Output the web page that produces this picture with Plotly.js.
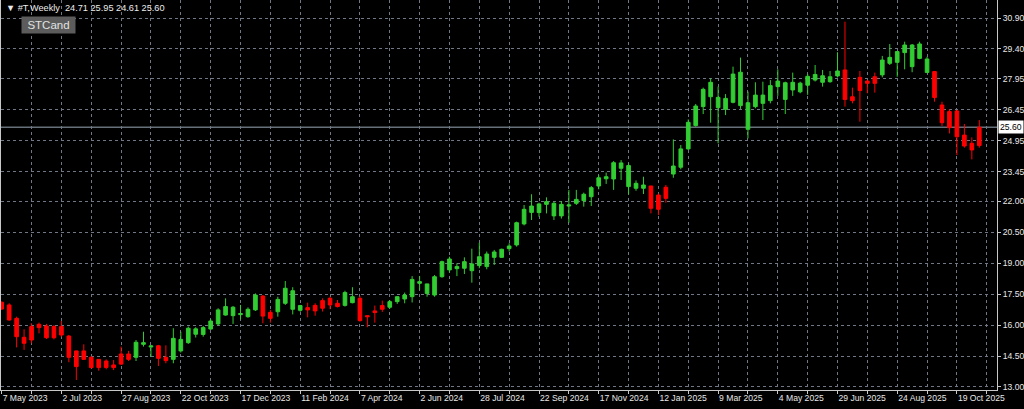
<!DOCTYPE html>
<html><head><meta charset="utf-8">
<script src="https://cdn.plot.ly/plotly-3.0.1.min.js"></script>
<style>html,body{margin:0;padding:0;background:#000;}#chart{width:1024px;height:409px;}</style>
</head><body><div id="chart"></div>
<script>
const symbolName = '#T,Weekly';
const indicatorName = 'STCand';

const dates = [
'2023-05-07','2023-05-14','2023-05-21','2023-05-28','2023-06-04','2023-06-11','2023-06-18','2023-06-25',
'2023-07-02','2023-07-09','2023-07-16','2023-07-23','2023-07-30','2023-08-06','2023-08-13','2023-08-20',
'2023-08-27','2023-09-03','2023-09-10','2023-09-17','2023-09-24','2023-10-01','2023-10-08','2023-10-15',
'2023-10-22','2023-10-29','2023-11-05','2023-11-12','2023-11-19','2023-11-26','2023-12-03','2023-12-10',
'2023-12-17','2023-12-24','2023-12-31','2024-01-07','2024-01-14','2024-01-21','2024-01-28','2024-02-04',
'2024-02-11','2024-02-18','2024-02-25','2024-03-03','2024-03-10','2024-03-17','2024-03-24','2024-03-31',
'2024-04-07','2024-04-14','2024-04-21','2024-04-28','2024-05-05','2024-05-12','2024-05-19','2024-05-26',
'2024-06-02','2024-06-09','2024-06-16','2024-06-23','2024-06-30','2024-07-07','2024-07-14','2024-07-21',
'2024-07-28','2024-08-04','2024-08-11','2024-08-18','2024-08-25','2024-09-01','2024-09-08','2024-09-15',
'2024-09-22','2024-09-29','2024-10-06','2024-10-13','2024-10-20','2024-10-27','2024-11-03','2024-11-10',
'2024-11-17','2024-11-24','2024-12-01','2024-12-08','2024-12-15','2024-12-22','2024-12-29','2025-01-05',
'2025-01-12','2025-01-19','2025-01-26','2025-02-02','2025-02-09','2025-02-16','2025-02-23','2025-03-02',
'2025-03-09','2025-03-16','2025-03-23','2025-03-30','2025-04-06','2025-04-13','2025-04-20','2025-04-27',
'2025-05-04','2025-05-11','2025-05-18','2025-05-25','2025-06-01','2025-06-08','2025-06-15','2025-06-22',
'2025-06-29','2025-07-06','2025-07-13','2025-07-20','2025-07-27','2025-08-03','2025-08-10','2025-08-17',
'2025-08-24','2025-08-31','2025-09-07','2025-09-14','2025-09-21','2025-09-28','2025-10-05','2025-10-12',
'2025-10-19','2025-10-26','2025-11-02','2025-11-09'];

const openP = [
17.11,16.98,16.33,15.41,15.93,16.04,15.96,15.93,15.93,15.47,14.75,14.75,14.44,14.34,14.26,14.07,
14.60,14.60,14.44,15.07,14.94,15.00,14.44,14.34,14.75,15.15,15.56,15.55,15.81,16.06,16.49,16.46,
16.51,16.41,16.74,17.41,16.62,16.65,17.06,16.77,16.72,16.85,16.96,17.19,17.30,17.06,16.96,17.09,
17.30,16.46,16.69,16.95,16.87,17.14,17.27,17.38,18.03,17.54,17.46,18.35,18.68,18.74,18.76,18.64,
18.89,18.84,19.29,19.29,19.71,19.89,20.91,21.47,21.46,21.86,21.30,21.30,21.78,21.91,22.04,22.23,
22.75,23.10,23.09,23.61,22.72,22.64,22.64,22.75,22.31,22.69,23.33,23.66,24.55,25.68,26.60,27.08,
26.55,26.47,26.81,26.65,25.50,26.60,26.76,26.89,27.57,26.95,27.41,27.32,27.64,27.89,27.78,27.81,
28.09,28.38,27.08,28.02,27.84,28.05,28.14,28.70,28.75,29.22,28.54,28.94,28.26,28.30,26.68,26.36,
26.39,25.22,24.82,24.71];

const highP = [
17.15,17.06,16.41,15.80,16.09,16.12,16.06,16.01,16.20,15.52,14.76,15.07,14.50,14.35,14.34,14.31,
14.96,14.75,15.28,15.68,15.04,15.04,15.02,15.85,15.68,15.93,15.90,15.96,16.30,16.82,17.30,16.93,
16.98,16.86,17.54,17.46,16.74,17.38,18.14,17.84,16.98,17.09,17.06,17.30,17.38,17.22,17.67,17.84,
17.41,16.49,16.95,17.19,17.22,17.41,17.58,18.38,18.38,18.01,18.43,19.13,19.32,19.00,19.29,19.71,
20.00,19.57,19.65,19.71,19.97,21.02,21.83,22.35,21.94,22.20,21.99,22.02,22.56,22.56,22.43,22.75,
23.28,23.40,23.96,24.01,23.85,23.02,23.20,22.76,22.39,22.80,25.01,24.74,25.98,26.73,27.52,27.97,
27.57,27.21,28.54,28.98,27.33,27.78,27.81,27.89,28.41,27.81,28.25,27.81,28.18,28.62,28.38,28.33,
29.24,30.72,27.52,28.33,27.89,28.25,29.06,29.64,29.30,29.75,29.64,29.75,29.02,28.33,26.84,26.47,
26.44,25.76,25.11,25.95];

const lowP = [
16.75,16.22,14.92,14.80,15.12,15.60,15.33,15.31,15.44,14.20,13.34,14.31,13.90,13.79,13.86,13.82,
14.07,14.26,14.26,14.96,14.47,14.02,14.15,14.15,14.67,15.09,15.40,15.44,15.77,15.96,16.46,16.06,
16.28,16.36,16.69,16.09,16.12,16.41,16.98,16.52,16.65,16.38,16.46,16.66,16.77,16.86,16.90,17.06,
16.17,15.90,16.12,16.64,16.80,17.03,17.06,17.10,17.71,17.38,17.38,18.30,18.55,18.38,18.48,18.06,
18.76,18.71,18.92,19.26,19.57,19.81,20.84,21.10,21.26,21.42,21.10,21.17,20.97,21.83,21.75,21.78,
22.59,22.85,22.56,23.04,22.34,22.52,22.36,21.42,21.34,21.94,23.15,23.56,24.50,25.63,26.24,25.82,
24.82,26.19,26.76,26.49,25.06,26.52,25.95,26.76,27.12,26.24,27.12,27.25,27.17,27.82,27.57,27.76,
28.02,26.60,26.76,25.87,27.25,27.28,28.02,28.62,28.05,28.41,28.27,28.90,28.22,26.84,25.66,25.30,
24.25,24.61,24.04,24.61];

const closeP = [
16.78,16.25,15.44,15.12,15.28,15.88,15.39,15.39,15.52,14.44,13.99,14.34,13.94,13.94,13.95,13.94,
14.11,14.34,15.17,15.15,14.99,14.39,14.28,15.36,15.31,15.85,15.82,15.88,16.20,16.74,16.90,16.87,
16.56,16.77,17.46,16.44,16.33,17.25,17.79,17.67,16.95,16.74,16.69,16.82,16.98,16.90,17.58,17.38,
16.22,16.41,16.61,16.77,17.14,17.38,17.46,18.22,18.11,18.00,18.35,19.08,19.21,18.84,19.08,18.97,
19.32,19.45,19.55,19.68,19.84,20.97,21.62,21.78,21.88,21.99,21.91,21.86,21.83,22.10,22.35,22.67,
23.15,23.20,23.88,23.87,23.74,22.88,22.80,21.67,21.62,22.15,23.72,24.55,25.84,26.63,27.44,27.78,
27.05,27.00,28.18,28.27,26.79,27.16,27.16,27.62,27.84,27.76,27.78,27.74,28.07,28.16,28.10,28.05,
28.33,26.95,26.89,27.38,27.73,27.73,28.86,28.99,29.27,29.59,29.59,29.64,28.91,27.04,25.82,25.58,
25.14,24.69,24.50,25.60];

// STCand state per candle: 'up' = green, 'dn' = red
const state = [
'dn','dn','dn','dn','dn','dn','dn','dn','dn','dn','dn','dn','dn','dn','dn','dn',
'dn','dn','up','up','up','dn','dn','up','up','up','up','up','up','up','up','up',
'up','up','up','dn','dn','up','up','up','up','dn','dn','dn','dn','dn','up','up',
'dn','dn','dn','dn','up','up','up','up','up','up','up','up','up','up','up','up',
'up','up','up','up','up','up','up','up','up','up','up','up','up','up','up','up',
'up','up','up','up','up','up','up','dn','dn','dn','up','up','up','up','up','up',
'up','up','up','up','up','up','up','up','up','up','up','up','up','up','up','up',
'up','dn','dn','dn','dn','dn','up','up','up','up','up','up','up','dn','dn','dn',
'dn','dn','dn','dn'];

const xTickDates = ['2023-05-07','2023-06-04','2023-07-02','2023-07-30','2023-08-27','2023-09-24','2023-10-22','2023-11-19',
'2023-12-17','2024-01-14','2024-02-11','2024-03-10','2024-04-07','2024-05-05','2024-06-02','2024-06-30',
'2024-07-28','2024-08-25','2024-09-22','2024-10-20','2024-11-17','2024-12-15','2025-01-12','2025-02-09',
'2025-03-09','2025-04-06','2025-05-04','2025-06-01','2025-06-29','2025-07-27','2025-08-24','2025-09-21',
'2025-10-19','2025-11-16'];
const xTickText = ['7 May 2023','','2 Jul 2023','','27 Aug 2023','','22 Oct 2023','','17 Dec 2023','',
'11 Feb 2024','','7 Apr 2024','','2 Jun 2024','','28 Jul 2024','','22 Sep 2024','','17 Nov 2024','',
'12 Jan 2025','','9 Mar 2025','','4 May 2025','','29 Jun 2025','','24 Aug 2025','','19 Oct 2025',''];
const yTickText = ['13.00','14.50','16.00','17.50','19.00','20.50','22.00','23.45','24.95','26.45','27.95','29.40','30.90'];

const GREEN = '#32cd32', RED = '#ff0000';
const GRID = '#6f7884';
const FONT = 'Liberation Sans, Arial, sans-serif';

function buildTrace(which, color) {
  const idx = state.map((s, i) => s === which ? i : -1).filter(i => i >= 0);
  const side = {line: {color: color, width: 1}, fillcolor: color};
  return {
    type: 'candlestick',
    x: idx.map(i => dates[i]), open: idx.map(i => openP[i]), high: idx.map(i => highP[i]),
    low: idx.map(i => lowP[i]), close: idx.map(i => closeP[i]),
    increasing: side, decreasing: side, whiskerwidth: 0,
    hoverinfo: 'skip', showlegend: false
  };
}

const n = dates.length;
const lastClose = closeP[n - 1];
const header = '\u25BC ' + symbolName + '  ' + openP[n-1].toFixed(2) + ' ' + highP[n-1].toFixed(2) + ' ' +
  lowP[n-1].toFixed(2) + ' ' + lastClose.toFixed(2);

const axisCommon = {
  showgrid: true, gridcolor: GRID, griddash: '3px,3px', gridwidth: 1,
  showline: true, linecolor: '#c8c8c8', linewidth: 1, mirror: true,
  ticks: 'outside', ticklen: 3, tickcolor: '#c8c8c8', tickwidth: 1,
  zeroline: false, fixedrange: true,
  tickfont: {family: FONT, size: 8.6, color: '#e8e8e8'}
};

const layout = {
  width: 1024, height: 409,
  margin: {l: 1, r: 27, t: 0, b: 19, pad: 0},
  paper_bgcolor: '#000000', plot_bgcolor: '#000000',
  showlegend: false, boxmode: 'overlay',
  xaxis: Object.assign({}, axisCommon, {
    type: 'date', range: ['2023-05-06 08:10', '2025-11-25 14:30'],
    tickmode: 'array', tickvals: xTickDates, ticktext: xTickText,
    ticklabelposition: 'outside right',
    rangeslider: {visible: false}
  }),
  yaxis: Object.assign({}, axisCommon, {
    side: 'right', range: [12.854, 31.773],
    tickmode: 'array', tickvals: yTickText.map(parseFloat), ticktext: yTickText
  }),
  shapes: [{
    type: 'line', xref: 'paper', x0: 0, x1: 1, yref: 'y', y0: lastClose, y1: lastClose,
    line: {color: '#66707b', width: 1.5}, layer: 'below'
  }],
  annotations: [
    {xref: 'paper', yref: 'y', x: 1, y: lastClose, xanchor: 'left', yanchor: 'middle', xshift: 1,
     text: lastClose.toFixed(2), showarrow: false, bgcolor: '#ffffff', borderpad: 1,
     font: {family: FONT, size: 8.6, color: '#000000'}},
    {xref: 'paper', yref: 'paper', x: 0, y: 1, xanchor: 'left', yanchor: 'top', xshift: 3, yshift: -1,
     text: header, showarrow: false, font: {family: FONT, size: 9.2, color: '#ececec'}},
    {xref: 'paper', yref: 'paper', x: 0, y: 1, xanchor: 'left', yanchor: 'top', xshift: 20, yshift: -16,
     text: indicatorName, showarrow: false, bgcolor: '#5c5c5c', width: 49, height: 12, borderpad: 2,
     font: {family: FONT, size: 11.5, color: '#e0e0e0'}}
  ]
};

Plotly.newPlot('chart', [buildTrace('up', GREEN), buildTrace('dn', RED)], layout, {staticPlot: true, displayModeBar: false});
</script></body></html>
